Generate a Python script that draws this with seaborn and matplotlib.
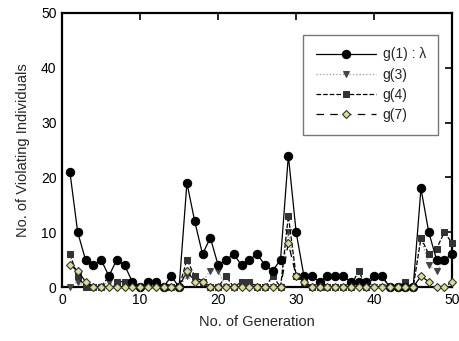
import matplotlib
matplotlib.use("Agg")
import matplotlib.pyplot as plt
import seaborn as sns
import numpy as np

gen = list(range(1, 51))
g1 = [21,10,5,4,5,2,5,4,1,0, 1,1,0,2,0,19,12,6,9,4, 5,6,4,5,6,4,3,5,24,10,
      2,2,1,2,2,2,1,1,1,2, 2,0,0,0,0,18,10,5,5,6]
g3 = [0,1,0,0,0,1,0,0,0,0, 0,0,0,0,0,2,1,1,3,3, 0,0,0,0,0,0,0,0,10,2,
      1,0,0,0,0,0,0,0,0,0, 0,0,0,0,0,9,4,3,5,6]
g4 = [6,2,0,0,0,2,1,1,1,0, 1,1,0,0,0,5,2,1,0,0, 2,0,1,1,0,0,2,0,13,2,
      1,0,0,0,0,0,0,3,0,2, 2,0,0,1,0,9,6,7,10,8]
g7 = [4,3,1,0,0,0,0,0,0,0, 0,0,0,0,0,3,1,1,0,0, 0,0,0,0,0,0,0,0,8,2,
      1,0,0,0,0,0,0,0,0,0, 0,0,0,0,0,2,1,0,0,1]
labels = ["g(1) : λ", "g(3)", "g(4)", "g(7)"]
xticks = [0, 10, 20, 30, 40, 50]
yticks = [0, 10, 20, 30, 40, 50]

sns.set_style("white")
plt.rcParams['font.family'] = ['Liberation Sans', 'DejaVu Sans']

fig = plt.figure(figsize=(4.6, 3.41), dpi=100)
ax = fig.add_axes([0.135, 0.158, 0.848, 0.804])

sns.lineplot(x=gen, y=g1, ax=ax, color='black', lw=0.9, marker='o', ms=6,
             mfc='black', mec='black', label=labels[0], clip_on=False, zorder=5)
sns.lineplot(x=gen, y=g3, ax=ax, color='#999999', lw=0.9, ls=':', marker='v', ms=5,
             mfc='#444444', mec='#444444', label=labels[1], clip_on=False, zorder=4)
sns.lineplot(x=gen, y=g4, ax=ax, color='black', lw=0.9, ls='--', marker='s', ms=5,
             mfc='#333333', mec='#333333', label=labels[2], clip_on=False, zorder=4)
sns.lineplot(x=gen, y=g7, ax=ax, color='black', lw=0.9, ls=(0, (6, 5)), marker='D', ms=4.5,
             mfc='#dcdc96', mec='#333333', mew=0.8, label=labels[3], clip_on=False, zorder=6)

ax.set_xlim(0, 50)
ax.set_ylim(0, 50)
ax.set_xticks(xticks)
ax.set_yticks(yticks)
ax.tick_params(direction='in', length=5, width=1.2, top=True, right=True,
               labelsize=10, pad=4, colors='black')
for s in ax.spines.values():
    s.set_linewidth(1.6)
    s.set_color('black')
ax.set_xlabel("No. of Generation", fontsize=10.5, labelpad=6)
ax.set_ylabel("No. of Violating Individuals", fontsize=10.5, labelpad=8)

leg = ax.legend(loc='upper right', bbox_to_anchor=(0.975, 0.935), fontsize=10,
                handlelength=4.3, frameon=True, fancybox=False, borderpad=0.9,
                labelspacing=0.45, handletextpad=0.5, borderaxespad=0.3)
leg.get_frame().set_edgecolor('#555555')
leg.get_frame().set_linewidth(1.0)

fig.savefig("out.png", dpi=100)
